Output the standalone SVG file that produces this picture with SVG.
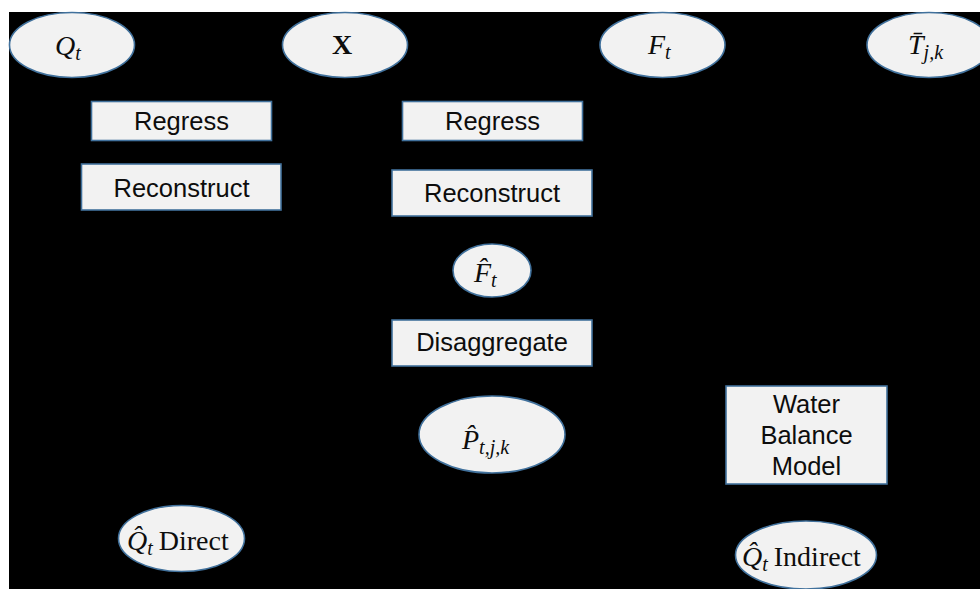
<svg xmlns="http://www.w3.org/2000/svg" width="980" height="589" viewBox="0 0 980 589">
<style>
.bg{fill:#000}
.n{fill:#f2f2f2;stroke:#41719c;stroke-width:1.6}
.t{font-family:"Liberation Sans",Arial,sans-serif;font-size:25.5px;fill:#0d0d0d;text-anchor:middle}
.m{font-family:"Liberation Serif","DejaVu Serif",serif;font-style:italic;font-size:28px;fill:#0d0d0d}
.r{font-family:"Liberation Serif","DejaVu Serif",serif;font-style:normal;font-size:28px;fill:#0d0d0d}
.s{font-size:20px}
</style>
<rect x="0" y="0" width="980" height="589" fill="#fff"/>
<rect class="bg" x="9" y="12" width="971" height="577"/>
<g id="connectors"></g>
<g id="Qt">
<ellipse class="n" cx="72" cy="45" rx="62.5" ry="32.5"/>
<text class="m" x="55" y="55">Q<tspan class="s" dy="5">t</tspan></text>
</g>
<g id="X">
<ellipse class="n" cx="345" cy="45" rx="62.5" ry="32.5"/>
<text class="r" x="342" y="54" font-weight="bold" text-anchor="middle">X</text>
</g>
<g id="Ft">
<ellipse class="n" cx="662.5" cy="45" rx="62.5" ry="32.5"/>
<text class="m" x="648" y="54">F<tspan class="s" dy="5">t</tspan></text>
</g>
<g id="Tjk">
<ellipse class="n" cx="929" cy="45" rx="62" ry="32.5"/>
<text class="m" x="908" y="54">T̄<tspan class="s" dy="5">j,k</tspan></text>
</g>
<g id="regress1">
<rect class="n" x="91.5" y="101.5" width="180" height="39"/>
<text class="t" x="181.5" y="130">Regress</text>
</g>
<g id="reconstruct1">
<rect class="n" x="81.5" y="164" width="199.5" height="46"/>
<text class="t" x="181.5" y="197">Reconstruct</text>
</g>
<g id="regress2">
<rect class="n" x="402.5" y="101.5" width="180" height="39"/>
<text class="t" x="492.5" y="130">Regress</text>
</g>
<g id="reconstruct2">
<rect class="n" x="392" y="170" width="200" height="46"/>
<text class="t" x="492" y="202">Reconstruct</text>
</g>
<g id="Fhat">
<ellipse class="n" cx="492" cy="270.5" rx="39" ry="26.5"/>
<text class="m" x="474" y="282">F̂<tspan class="s" dy="5">t</tspan></text>
</g>
<g id="disaggregate">
<rect class="n" x="392" y="320" width="200" height="46"/>
<text class="t" x="492" y="351">Disaggregate</text>
</g>
<g id="Phat">
<ellipse class="n" cx="492" cy="434.5" rx="73" ry="38.5"/>
<text class="m" x="462" y="449">P̂<tspan class="s" dy="5">t,j,k</tspan></text>
</g>
<g id="waterBalance">
<rect class="n" x="726" y="386" width="161" height="98"/>
<text class="t" x="806.5" y="413">Water</text>
<text class="t" x="806.5" y="444">Balance</text>
<text class="t" x="806.5" y="475">Model</text>
</g>
<g id="QhatDirect">
<ellipse class="n" cx="181.5" cy="538.5" rx="63" ry="33"/>
<text class="m" x="127" y="550">Q̂<tspan class="s" dy="5">t</tspan><tspan class="r" dx="6" dy="-5">Direct</tspan></text>
</g>
<g id="QhatIndirect">
<ellipse class="n" cx="806" cy="555" rx="70.5" ry="34"/>
<text class="m" x="742" y="566">Q̂<tspan class="s" dy="5">t</tspan><tspan class="r" dx="6" dy="-5">Indirect</tspan></text>
</g>
</svg>
